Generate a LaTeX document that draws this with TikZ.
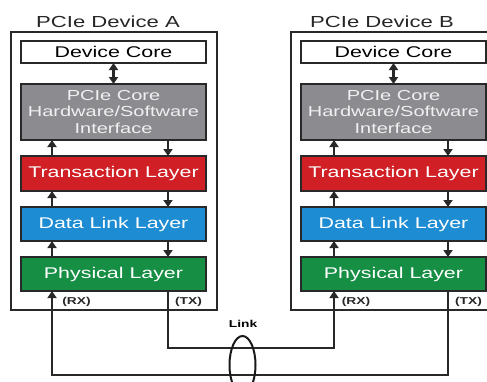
\documentclass[tikz,border=0pt]{standalone}
\usepackage{fontspec}
\usepackage{graphicx}
\setmainfont{Liberation Sans}
\usetikzlibrary{shapes.geometric,arrows.meta}
\newcommand\hs[1]{\scalebox{1.38}[1]{#1}}
\definecolor{dgray}{RGB}{40,40,40}
\definecolor{coregray}{RGB}{140,140,144}
\definecolor{tlred}{RGB}{208,32,38}
\definecolor{dlblue}{RGB}{30,140,210}
\definecolor{phgreen}{RGB}{22,142,68}
\begin{document}
\begin{tikzpicture}[x=1pt,y=-1pt,
  layerbox/.style={draw=dgray,line width=1.6pt,inner sep=0pt,outer sep=0pt,minimum width=185pt,
     font=\fontsize{15.5}{18}\selectfont,text=white},
  outerbox/.style={draw=dgray,line width=2pt},
  title/.style={font=\fontsize{16}{19}\selectfont,text=black!85},
  small/.style={font=\fontsize{10}{12}\selectfont\bfseries,text=black!85},
  arr/.style={draw=dgray,line width=2.2pt,-{Triangle[length=7pt,width=9pt]}},
  arrtwo/.style={draw=dgray,line width=2.2pt,{Triangle[length=7pt,width=9pt]}-{Triangle[length=7pt,width=9pt]}},
  wire/.style={draw=dgray,line width=2.2pt}]
\useasboundingbox (0,0) rectangle (487,381);
\clip (0,0) rectangle (487,381);
\fill[white] (0,0) rectangle (487,381);

% outer boxes
\draw[outerbox] (11,32) rectangle (217,310);
\draw[outerbox] (291,32) rectangle (497,310);

% titles
\node[title] (tA) at (108,21.5) {\hs{PCIe Device A}};
\node[title] (tB) at (382,21.5) {\hs{PCIe Device B}};

% Device A
\node[layerbox,fill=white,text=black,minimum height=22pt] (dcA) at (113.5,52) {\hs{Device Core}};
\node[layerbox,fill=coregray,text=black!6,minimum height=56pt,align=center,font=\fontsize{14.5}{16.5}\selectfont] (pcA) at (113.5,112) {\hs{PCIe Core}\\\hs{Hardware/Software}\\\hs{Interface}};
\node[layerbox,fill=tlred,minimum height=35pt] (tlA) at (113.5,173.5) {\hs{Transaction Layer}};
\node[layerbox,fill=dlblue,minimum height=34pt] (dlA) at (113.5,224) {\hs{Data Link Layer}};
\node[layerbox,fill=phgreen,minimum height=34pt] (phA) at (113.5,274) {\hs{Physical Layer}};

% Device B
\node[layerbox,fill=white,text=black,minimum height=22pt] (dcB) at (393.5,52) {\hs{Device Core}};
\node[layerbox,fill=coregray,text=black!6,minimum height=56pt,align=center,font=\fontsize{14.5}{16.5}\selectfont] (pcB) at (393.5,112) {\hs{PCIe Core}\\\hs{Hardware/Software}\\\hs{Interface}};
\node[layerbox,fill=tlred,minimum height=35pt] (tlB) at (393.5,173.5) {\hs{Transaction Layer}};
\node[layerbox,fill=dlblue,minimum height=34pt] (dlB) at (393.5,224) {\hs{Data Link Layer}};
\node[layerbox,fill=phgreen,minimum height=34pt] (phB) at (393.5,274) {\hs{Physical Layer}};

% column coordinates
\coordinate (lxA) at (52,0);
\coordinate (rxA) at (168,0);
\coordinate (lxB) at (334,0);
\coordinate (rxB) at (448,0);

% internal arrows A
\draw[arrtwo] (dcA) -- (pcA);
\draw[arr] (tlA.north -| lxA) -- (pcA.south -| lxA);
\draw[arr] (pcA.south -| rxA) -- (tlA.north -| rxA);
\draw[arr] (dlA.north -| lxA) -- (tlA.south -| lxA);
\draw[arr] (tlA.south -| rxA) -- (dlA.north -| rxA);
\draw[arr] (phA.north -| lxA) -- (dlA.south -| lxA);
\draw[arr] (dlA.south -| rxA) -- (phA.north -| rxA);

% internal arrows B
\draw[arrtwo] (dcB) -- (pcB);
\draw[arr] (tlB.north -| lxB) -- (pcB.south -| lxB);
\draw[arr] (pcB.south -| rxB) -- (tlB.north -| rxB);
\draw[arr] (dlB.north -| lxB) -- (tlB.south -| lxB);
\draw[arr] (tlB.south -| rxB) -- (dlB.north -| rxB);
\draw[arr] (phB.north -| lxB) -- (dlB.south -| lxB);
\draw[arr] (dlB.south -| rxB) -- (phB.north -| rxB);

% RX / TX labels
\node[small] (rxlA) at (76.5,302) {\hs{(RX)}};
\node[small] (txlA) at (188.5,302) {\hs{(TX)}};
\node[small] (rxlB) at (356,302) {\hs{(RX)}};
\node[small] (txlB) at (468.5,302) {\hs{(TX)}};

% link wires
\coordinate (c1) at (168,348);
\coordinate (c2) at (334,348);
\coordinate (c3) at (448,375);
\coordinate (c4) at (52,375);
\draw[arr] (phA.south -| rxA) -- (c1) -- (c2) -- (phB.south -| lxB);
\draw[arr] (phB.south -| rxB) -- (c3) -- (c4) -- (phA.south -| lxA);

% link ellipse
\node[draw=black!90,line width=2pt,ellipse,minimum width=26pt,minimum height=58pt,inner sep=0pt] (lk) at (242.5,365) {};
\node[small,text=black] (lkt) at (243,324) {\hs{Link}};
\end{tikzpicture}
\end{document}
